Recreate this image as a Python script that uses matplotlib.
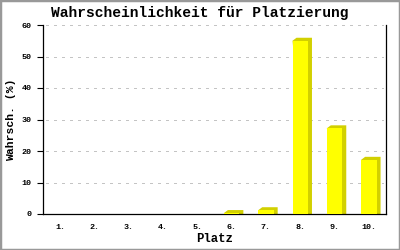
import matplotlib
matplotlib.use("Agg")
from matplotlib import pyplot as plt
from matplotlib.patches import Polygon, Rectangle
from matplotlib.transforms import IdentityTransform

# data
places = ["1.", "2.", "3.", "4.", "5.", "6.", "7.", "8.", "9.", "10."]
chances = [0, 0, 0, 0, 0, 0.3, 1.2, 55.0, 27.2, 17.2]
yticks = [0, 10, 20, 30, 40, 50, 60]

front = "#ffff00"
side = "#d2d000"
mono = "Liberation Mono"

fig = plt.figure(figsize=(4, 2.5), dpi=100)
fig.patch.set_facecolor("white")
ax = fig.add_axes([0.1075, 0.144, 0.8575, 0.756])

xs = list(range(len(places)))
ax.set_xlim(-0.5, len(places) - 0.5)
ax.set_ylim(0, 60)

# grid
for v in yticks[1:]:
    ax.axhline(v, color="#c4c4c4", lw=0.75, ls=(0, (2.7, 5.3)), zorder=0,
               xmin=0.01, xmax=0.99, antialiased=False)

width = 0.45
bars = ax.bar(xs, chances, width=width, color=front, zorder=3, linewidth=0)

# 3d side faces in pixel space
dx, dy = 4, 3
for x, v in zip(xs, chances):
    if v <= 0:
        continue
    (x0, yt) = ax.transData.transform((x - width / 2, v))
    (x1, yb) = ax.transData.transform((x + width / 2, 0))
    pts = [(x0, yt), (x0 + dx, yt + dy), (x1 + dx, yt + dy), (x1 + dx, yb), (x1, yb)]
    ax.add_patch(Polygon(pts, closed=True, transform=IdentityTransform(),
                         facecolor=side, edgecolor="none", zorder=2))

ax.spines["top"].set_visible(False)
for s in ("left", "bottom", "right"):
    ax.spines[s].set_linewidth(0.9)
    ax.spines[s].set_color("black")

ax.set_yticks(yticks)
ax.set_xticks(xs)
ax.set_xticklabels(places)
ax.tick_params(axis="y", length=4, width=0.8, pad=4, labelsize=6)
ax.tick_params(axis="x", length=0, pad=7, labelsize=6)
for lab in ax.get_xticklabels() + ax.get_yticklabels():
    lab.set_family(mono)
    lab.set_fontweight("bold")

ax.set_xlabel("Platz", family=mono, fontweight="bold", fontsize=8.8, labelpad=2)
ax.set_ylabel("Wahrsch. (%)", family=mono, fontweight="bold", fontsize=8.2, labelpad=4)

fig.text(0.5, 0.948, "Wahrscheinlichkeit für Platzierung", family=mono,
         fontweight="bold", fontsize=10.5, ha="center", va="center")

# grey frame around the picture
fig.patches.append(Rectangle((0, 0), 1, 1, transform=fig.transFigure, fill=False,
                             edgecolor="#999999", linewidth=2.5))

fig.savefig("out.png", dpi=100)
